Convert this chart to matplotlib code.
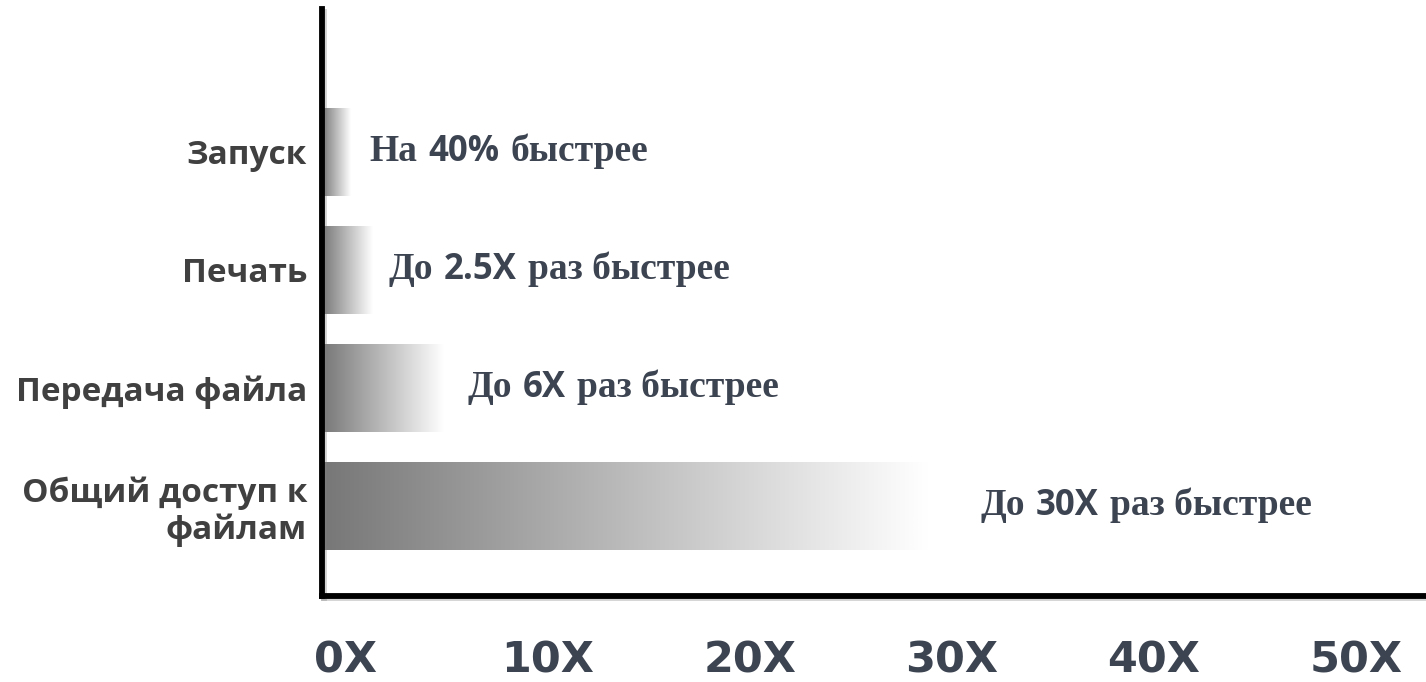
import numpy as np
import matplotlib

matplotlib.use("Agg")
import matplotlib.pyplot as plt
import matplotlib.patheffects as pe
import matplotlib.transforms as mtransforms
from matplotlib.colors import LinearSegmentedColormap

categories = ["Запуск", "Печать", "Передача файла", "Общий доступ к\nфайлам"]
speedup = [1.4, 2.5, 6, 30]
caption_parts = [
    ("На", "40%", "быстрее"),
    ("До", "2.5X", "раз быстрее"),
    ("До", "6X", "раз быстрее"),
    ("До", "30X", "раз быстрее"),
]
xticks = [0, 10, 20, 30, 40, 50]
xtick_labels = ["0X", "10X", "20X", "30X", "40X", "50X"]

# layout only: where each caption starts (x, data units)
caption_x = [2.33, 3.3, 7.2, 32.6]
ypos = [3, 2, 1, 0]

TEXT = "#3d4451"
LABEL = "#404040"

W, H, DPI = 14.26, 6.82, 100
fig = plt.figure(figsize=(W, H), dpi=DPI)
fig.patch.set_facecolor("white")
ax = fig.add_axes([322 / 1426, 1 - 595.5 / 682, 0.78, (595.5 - 9) / 682])

# gradient bars: grey on the left fading to white at the value
grad = np.linspace(0, 1, 256).reshape(1, -1)
fade = LinearSegmentedColormap.from_list("fade", ["#777777", "#ffffff"])
bar_h = 0.74
for y, v in zip(ypos, speedup):
    ax.imshow(grad, extent=(0, v, y - bar_h / 2, y + bar_h / 2), cmap=fade,
              aspect="auto", interpolation="bicubic", zorder=1)

ax.set_xlim(0, 0.78 * 1426 / 20.2)
ax.set_ylim(-0.756, 4.209)
ax.set_aspect("auto")

# axes
for side in ("top", "right"):
    ax.spines[side].set_visible(False)
for side in ("left", "bottom"):
    sp = ax.spines[side]
    sp.set_color("black")
    sp.set_linewidth(4.2)
    sp.set_path_effects([pe.SimpleLineShadow(offset=(1.5, -2), shadow_color="gray", alpha=0.35), pe.Normal()])
    sp.set_zorder(3)

ax.set_xticks(xticks, xtick_labels)
ax.tick_params(axis="x", length=0, pad=32, labelsize=31, labelcolor=TEXT)
shift = mtransforms.ScaledTranslation(24 / DPI, 0, fig.dpi_scale_trans)
for lab in ax.get_xticklabels():
    lab.set_fontfamily("DejaVu Sans")
    lab.set_fontweight("bold")
    lab.set_transform(lab.get_transform() + shift)

ax.set_yticks(ypos, categories)
ax.tick_params(axis="y", length=0, pad=10.8, labelsize=24, labelcolor=LABEL)
for lab in ax.get_yticklabels():
    lab.set_fontfamily("Open Sans")
    lab.set_fontweight("bold")
    lab.set_linespacing(1.12)

# captions: serif words with sans numbers, laid out piece by piece on one baseline
fig.canvas.draw()
renderer = fig.canvas.get_renderer()
serif = dict(family="Liberation Serif", weight="bold", size=27, color=TEXT)
sans = dict(family="Open Sans", weight="bold", size=25, color=TEXT)
ident = mtransforms.IdentityTransform()
for x0, y, parts in zip(caption_x, ypos, caption_parts):
    xd, yd = ax.transData.transform((x0, y))
    base = yd - 9
    x = xd
    for s, st in zip(parts, (serif, sans, serif)):
        t = fig.text(x, base, s, transform=ident, ha="left", va="baseline", **st)
        bb = t.get_window_extent(renderer)
        x = bb.x1 + 11

fig.savefig("out.png", dpi=DPI, facecolor="white")
